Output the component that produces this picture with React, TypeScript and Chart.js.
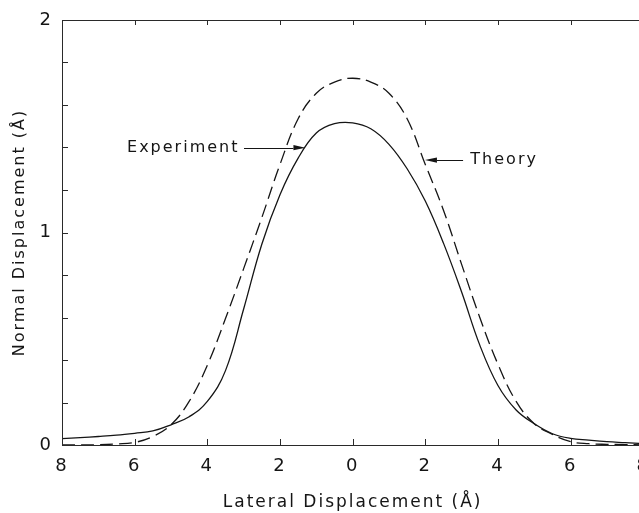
import React, { useEffect, useRef } from 'react';
import { Chart, registerables } from 'chart.js';

Chart.register(...registerables);

// Lateral displacement (Å), signed; axis labels show absolute values
const X_VALUES = [
  -8, -7.5, -7, -6.5, -6, -5.5, -5, -4.5, -4, -3.5, -3, -2.5, -2, -1.5, -1, -0.5,
  0, 0.5, 1, 1.5, 2, 2.5, 3, 3.5, 4, 4.5, 5, 5.5, 6, 6.5, 7, 7.5, 8,
];

// Normal displacement (Å)
const EXPERIMENT = [
  0.03, 0.035, 0.04, 0.046, 0.055, 0.066, 0.095, 0.133, 0.205, 0.35, 0.64, 0.945, 1.178, 1.35, 1.468, 1.512,
  1.516, 1.488, 1.415, 1.3, 1.148, 0.95, 0.72, 0.47, 0.28, 0.165, 0.1, 0.053, 0.031, 0.023, 0.016, 0.011, 0.006,
];

const THEORY = [
  0, 0, 0.001, 0.005, 0.012, 0.04, 0.095, 0.205, 0.375, 0.595, 0.83, 1.07, 1.32, 1.535, 1.655, 1.708,
  1.726, 1.708, 1.655, 1.535, 1.32, 1.105, 0.85, 0.6, 0.38, 0.205, 0.1, 0.05, 0.016, 0.006, 0.003, 0.002, 0.001,
];

const X_TICKS = [-8, -6, -4, -2, 0, 2, 4, 6, 8];
const Y_LABEL_TICKS = [0, 1, 2];
const Y_MINOR_STEP = 0.2;

const X_TITLE = 'Lateral Displacement (Å)';
const Y_TITLE = 'Normal Displacement (Å)';

// Annotation labels with arrows (data coordinates)
const ANNOTATION_TEXT = ['Experiment', 'Theory'];
const ANNOTATION_TEXT_X = [-3.17, 3.24];
const ANNOTATION_TAIL_X = [-2.99, 3.04];
const ANNOTATION_TIP_X = [-1.3, 1.99];
const ANNOTATION_Y = [1.399, 1.341];

const FONT = "'DejaVu Sans', sans-serif";
const INK = '#151515';

const framePlugin = {
  id: 'frameAndNotes',
  beforeDraw(chart: any) {
    chart.ctx.letterSpacing = '2px';
  },
  afterDraw(chart: any) {
    const { ctx, chartArea: a, scales } = chart;
    const x = scales.x;
    const y = scales.y;
    ctx.save();
    ctx.strokeStyle = '#2a2a2a';
    ctx.lineWidth = 1;
    ctx.setLineDash([]);
    ctx.strokeRect(Math.round(a.left) + 0.5, Math.round(a.top) + 0.5, a.right - a.left, a.bottom - a.top);

    ctx.beginPath();
    for (const v of X_TICKS) {
      const px = Math.round(x.getPixelForValue(v)) + 0.5;
      ctx.moveTo(px, a.bottom);
      ctx.lineTo(px, a.bottom - 6);
      ctx.moveTo(px, a.top);
      ctx.lineTo(px, a.top + 5);
    }
    const n = Math.round((y.max - y.min) / Y_MINOR_STEP);
    for (let i = 0; i <= n; i++) {
      const py = Math.round(y.getPixelForValue(y.min + i * Y_MINOR_STEP)) + 0.5;
      ctx.moveTo(a.left, py);
      ctx.lineTo(a.left + 6, py);
    }
    ctx.stroke();

    // annotations
    ctx.fillStyle = INK;
    ctx.strokeStyle = INK;
    ctx.font = `16px ${FONT}`;
    ctx.letterSpacing = '2px';
    ctx.textBaseline = 'middle';
    for (let i = 0; i < ANNOTATION_TEXT.length; i++) {
      const py = y.getPixelForValue(ANNOTATION_Y[i]);
      const tx = x.getPixelForValue(ANNOTATION_TEXT_X[i]);
      const tail = x.getPixelForValue(ANNOTATION_TAIL_X[i]);
      const tip = x.getPixelForValue(ANNOTATION_TIP_X[i]);
      const toRight = tip > tail;
      ctx.textAlign = 'left';
      if (toRight) {
        const w = ctx.measureText(ANNOTATION_TEXT[i]).width - 2;
        ctx.fillText(ANNOTATION_TEXT[i], tx - w, py);
      } else {
        ctx.fillText(ANNOTATION_TEXT[i], tx, py);
      }
      const dir = toRight ? 1 : -1;
      const headLen = 12;
      ctx.beginPath();
      ctx.lineWidth = 1;
      ctx.moveTo(tail, Math.round(py) + 0.5);
      ctx.lineTo(tip - dir * headLen, Math.round(py) + 0.5);
      ctx.stroke();
      ctx.beginPath();
      ctx.moveTo(tip, py);
      ctx.lineTo(tip - dir * headLen, py - 2.6);
      ctx.lineTo(tip - dir * headLen, py + 2.6);
      ctx.closePath();
      ctx.fill();
    }
    ctx.restore();
  },
};

export default function App() {
  const canvasRef = useRef<HTMLCanvasElement | null>(null);

  useEffect(() => {
    const canvas = canvasRef.current;
    if (!canvas) return;
    const expPoints = X_VALUES.map((xv, i) => ({ x: xv, y: EXPERIMENT[i] }));
    const theoryPoints = X_VALUES.map((xv, i) => ({ x: xv, y: THEORY[i] }));

    const chart = new Chart(canvas, {
      type: 'line',
      data: {
        datasets: [
          {
            label: 'Experiment',
            data: expPoints,
            borderColor: INK,
            borderWidth: 1.3,
            pointRadius: 0,
            fill: false,
            tension: 0.4,
          },
          {
            label: 'Theory',
            data: theoryPoints,
            borderColor: INK,
            borderWidth: 1.3,
            borderDash: [13, 6],
            pointRadius: 0,
            fill: false,
            tension: 0.4,
          },
        ],
      },
      options: {
        responsive: false,
        animation: false,
        events: [],
        layout: { padding: { left: 0, top: 20, right: 13, bottom: 0 } },
        plugins: {
          legend: { display: false },
          tooltip: { enabled: false },
          title: { display: false },
        },
        scales: {
          x: {
            type: 'linear',
            min: -8,
            max: 8,
            afterBuildTicks: (scale: any) => {
              scale.ticks = X_TICKS.map((v) => ({ value: v }));
            },
            afterFit: (scale: any) => {
              scale.height = 68;
            },
            ticks: {
              callback: (v: any) => String(Math.abs(Number(v))),
              font: { family: FONT, size: 18 },
              color: INK,
              padding: 11,
              maxRotation: 0,
              autoSkip: false,
            },
            grid: { display: false, drawTicks: false, tickLength: 0 },
            border: { display: false },
            title: {
              display: true,
              text: X_TITLE,
              font: { family: FONT, size: 17 },
              color: INK,
              padding: { top: 0, bottom: 0 },
            },
          },
          y: {
            type: 'linear',
            min: 0,
            max: 2,
            afterBuildTicks: (scale: any) => {
              scale.ticks = Y_LABEL_TICKS.map((v) => ({ value: v }));
            },
            afterFit: (scale: any) => {
              scale.width = 62;
            },
            ticks: {
              callback: (v: any) => String(v),
              font: { family: FONT, size: 18 },
              color: INK,
              padding: 9,
            },
            grid: { display: false, drawTicks: false, tickLength: 0 },
            border: { display: false },
            title: {
              display: true,
              text: Y_TITLE,
              font: { family: FONT, size: 16 },
              color: INK,
              padding: { top: 10, bottom: 0 },
            },
          },
        },
      },
      plugins: [framePlugin],
    } as any);

    return () => {
      chart.destroy();
    };
  }, []);

  return (
    <div
      style={{
        position: 'fixed',
        left: 0,
        top: 0,
        width: 639,
        height: 513,
        overflow: 'hidden',
        background: '#fff',
      }}
    >
      <canvas ref={canvasRef} width={660} height={513} style={{ display: 'block', width: 660, height: 513 }} />
    </div>
  );
}
